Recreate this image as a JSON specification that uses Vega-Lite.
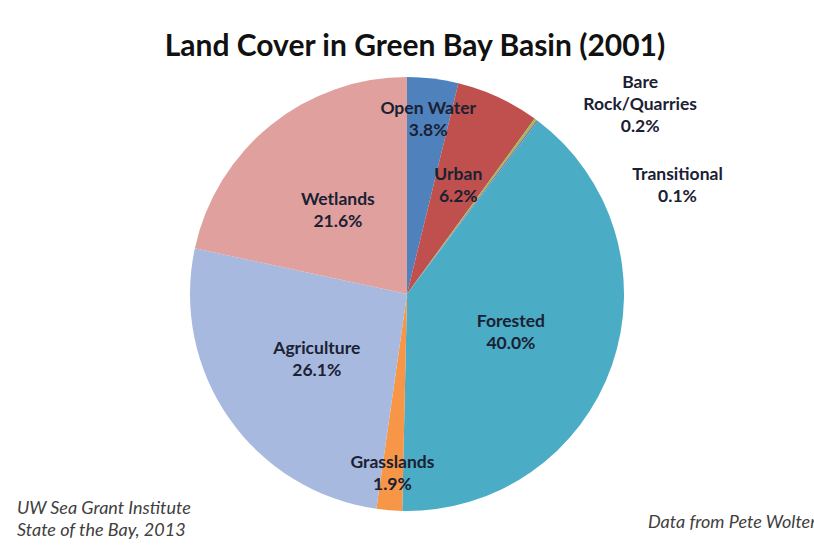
{
  "$schema": "https://vega.github.io/schema/vega-lite/v6.json",
  "autosize": {"type": "none"},
  "width": 814,
  "height": 434,
  "padding": {"top": 77, "bottom": 42, "left": 0, "right": 0},
  "background": "white",
  "config": {"view": {"stroke": null}},
  "title": {
    "text": "Land Cover in Green Bay Basin (2001)",
    "font": "Lato",
    "fontSize": 30,
    "fontWeight": "bold",
    "color": "#111111",
    "anchor": "middle",
    "frame": "group",
    "offset": 12,
    "dx": 8
  },
  "datasets": {
    "cover": [
      {"order": 1, "name": "Open Water", "label": "Open Water\n3.8%", "value": 3.8},
      {"order": 2, "name": "Urban", "label": "Urban\n6.2%", "value": 6.2},
      {"order": 3, "name": "Bare Rock/Quarries", "label": "Bare\nRock/Quarries\n0.2%", "value": 0.2},
      {"order": 4, "name": "Transitional", "label": "Transitional\n0.1%", "value": 0.1},
      {"order": 5, "name": "Forested", "label": "Forested\n40.0%", "value": 40.0},
      {"order": 6, "name": "Grasslands", "label": "Grasslands\n1.9%", "value": 1.9},
      {"order": 7, "name": "Agriculture", "label": "Agriculture\n26.1%", "value": 26.1},
      {"order": 8, "name": "Wetlands", "label": "Wetlands\n21.6%", "value": 21.6}
    ],
    "notes": [
      {"note": "UW Sea Grant Institute\nState of the Bay, 2013", "side": "left"},
      {"note": "Data from Pete Wolter", "side": "right"}
    ]
  },
  "layer": [
    {
      "data": {"name": "cover"},
      "mark": {"type": "arc", "outerRadius": 217},
      "encoding": {
        "theta": {"field": "value", "type": "quantitative", "stack": true, "scale": {"domain": [0, 99.9]}},
        "order": {"field": "order", "type": "quantitative"},
        "color": {
          "field": "name",
          "type": "nominal",
          "legend": null,
          "scale": {
            "domain": ["Open Water", "Urban", "Bare Rock/Quarries", "Transitional", "Forested", "Grasslands", "Agriculture", "Wetlands"],
            "range": ["#4f81bd", "#c0504d", "#9bbb59", "#8064a2", "#4bacc6", "#f79646", "#a7b9df", "#e0a09e"]
          }
        }
      }
    },
    {
      "data": {"name": "cover"},
      "transform": [
        {"stack": "value", "groupby": [], "sort": [{"field": "order", "order": "ascending"}], "as": ["v0", "v1"]},
        {"calculate": "(datum.v0 + datum.v1) / 2", "as": "mid"},
        {"filter": "indexof(['Wetlands','Agriculture','Forested'], datum.name) >= 0"}
      ],
      "mark": {"type": "text", "radius": 110, "dy": -8, "font": "Lato", "fontSize": 17.5, "fontWeight": "bold", "color": "#1a2133", "lineBreak": "\n", "lineHeight": 22, "align": "center", "baseline": "middle"},
      "encoding": {
        "theta": {"field": "mid", "type": "quantitative"},
        "text": {"field": "label"}
      }
    },
    {
      "data": {"name": "cover"},
      "transform": [
        {"stack": "value", "groupby": [], "sort": [{"field": "order", "order": "ascending"}], "as": ["v0", "v1"]},
        {"calculate": "(datum.v0 + datum.v1) / 2", "as": "mid"},
        {"filter": "datum.name == 'Urban'"}
      ],
      "mark": {"type": "text", "radius": 122, "dy": -8, "font": "Lato", "fontSize": 17.5, "fontWeight": "bold", "color": "#1a2133", "lineBreak": "\n", "lineHeight": 22, "align": "center", "baseline": "middle"},
      "encoding": {
        "theta": {"field": "mid", "type": "quantitative"},
        "text": {"field": "label"}
      }
    },
    {
      "data": {"name": "cover"},
      "transform": [
        {"stack": "value", "groupby": [], "sort": [{"field": "order", "order": "ascending"}], "as": ["v0", "v1"]},
        {"calculate": "(datum.v0 + datum.v1) / 2", "as": "mid"},
        {"filter": "datum.name == 'Open Water' || datum.name == 'Grasslands'"}
      ],
      "mark": {"type": "text", "radius": 178, "dy": -8, "font": "Lato", "fontSize": 17.5, "fontWeight": "bold", "color": "#1a2133", "lineBreak": "\n", "lineHeight": 22, "align": "center", "baseline": "middle"},
      "encoding": {
        "theta": {"field": "mid", "type": "quantitative"},
        "text": {"field": "label"}
      }
    },
    {
      "data": {"name": "cover"},
      "transform": [
        {"stack": "value", "groupby": [], "sort": [{"field": "order", "order": "ascending"}], "as": ["v0", "v1"]},
        {"calculate": "(datum.v0 + datum.v1) / 2", "as": "mid"},
        {"filter": "datum.name == 'Bare Rock/Quarries'"}
      ],
      "mark": {"type": "text", "radius": 300, "thetaOffset": 0.255, "dy": -22, "font": "Lato", "fontSize": 17.5, "fontWeight": "bold", "color": "#1a2133", "lineBreak": "\n", "lineHeight": 22, "align": "center", "baseline": "middle"},
      "encoding": {
        "theta": {"field": "mid", "type": "quantitative"},
        "text": {"field": "label"}
      }
    },
    {
      "data": {"name": "cover"},
      "transform": [
        {"stack": "value", "groupby": [], "sort": [{"field": "order", "order": "ascending"}], "as": ["v0", "v1"]},
        {"calculate": "(datum.v0 + datum.v1) / 2", "as": "mid"},
        {"filter": "datum.name == 'Transitional'"}
      ],
      "mark": {"type": "text", "radius": 292, "thetaOffset": 0.54, "dy": -9, "font": "Lato", "fontSize": 17.5, "fontWeight": "bold", "color": "#1a2133", "lineBreak": "\n", "lineHeight": 22, "align": "center", "baseline": "middle"},
      "encoding": {
        "theta": {"field": "mid", "type": "quantitative"},
        "text": {"field": "label"}
      }
    },
    {
      "data": {"name": "notes"},
      "transform": [{"filter": "datum.side == 'left'"}],
      "mark": {"type": "text", "font": "Lato", "fontSize": 18, "fontStyle": "italic", "color": "#404040", "lineBreak": "\n", "lineHeight": 22, "align": "left", "baseline": "middle", "x": 17, "y": 432},
      "encoding": {"text": {"field": "note"}}
    },
    {
      "data": {"name": "notes"},
      "transform": [{"filter": "datum.side == 'right'"}],
      "mark": {"type": "text", "font": "Lato", "fontSize": 18, "fontStyle": "italic", "color": "#404040", "align": "left", "baseline": "middle", "x": 648, "y": 446},
      "encoding": {"text": {"field": "note"}}
    }
  ]
}
